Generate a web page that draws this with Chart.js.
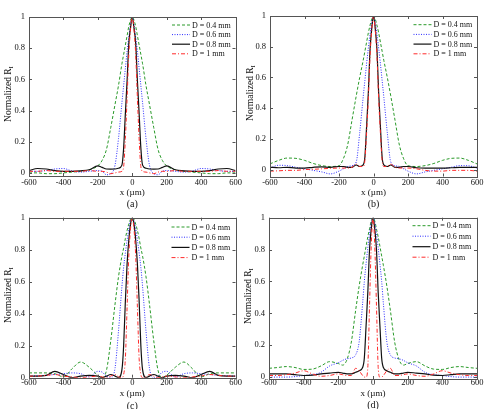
<!DOCTYPE html>
<html>
<head>
<meta charset="utf-8">
<script src="https://cdn.jsdelivr.net/npm/chart.js@4.4.1/dist/chart.umd.min.js"></script>
<style>
  html, body { margin: 0; padding: 0; background: #fff; }
  #page { position: relative; width: 484px; height: 409px; overflow: hidden; }
  canvas { position: absolute; }
</style>
</head>
<body>
<div id="page">
  <canvas id="chartA" width="242" height="212" style="left:0;top:0"></canvas>
  <canvas id="chartB" width="242" height="212" style="left:242px;top:0"></canvas>
  <canvas id="chartC" width="242" height="204" style="left:0;top:205px"></canvas>
  <canvas id="chartD" width="242" height="204" style="left:242px;top:205px"></canvas>
</div>
<script>
// x positions (µm) shared by every curve
const xPos = [-600, -550, -500, -450, -400, -350, -300, -250, -200, -175, -150, -125, -100, -80, -60, -50, -40, -30, -20, -10,
  0, 10, 20, 30, 40, 50, 60, 80, 100, 125, 150, 175, 200, 250, 300, 350, 400, 450, 500, 550, 600];

const seriesLabels = ['D = 0.4 mm', 'D = 0.6 mm', 'D = 0.8 mm', 'D = 1 mm'];
const xTicks = [-600, -400, -200, 0, 200, 400, 600];
const yTicks = [0, 0.2, 0.4, 0.6, 0.8, 1];
const captions = ['(a)', '(b)', '(c)', '(d)'];

// (a)
const a04 = [0.0, 0.0, -0.005, -0.005, 0.0, 0.005, 0.01, 0.02, 0.045, 0.08, 0.15, 0.29, 0.44, 0.56, 0.70, 0.76, 0.82, 0.88, 0.94, 0.98,
  1, 0.98, 0.94, 0.88, 0.82, 0.76, 0.70, 0.56, 0.44, 0.29, 0.15, 0.08, 0.045, 0.02, 0.01, 0.005, 0.0, -0.005, -0.005, 0.0, 0.0];
const a06 = [0.01, 0.01, 0.015, 0.025, 0.028, 0.012, 0.005, 0.01, 0.015, 0.01, -0.012, -0.005, 0.05, 0.22, 0.45, 0.56, 0.67, 0.78, 0.87, 0.95,
  1, 0.95, 0.87, 0.78, 0.67, 0.56, 0.45, 0.22, 0.05, -0.005, -0.012, 0.01, 0.015, 0.01, 0.005, 0.012, 0.028, 0.025, 0.015, 0.01, 0.01];
const a08 = [0.015, 0.028, 0.025, 0.015, 0.01, 0.01, 0.013, 0.02, 0.045, 0.035, 0.025, 0.024, 0.025, 0.03, 0.05, 0.16, 0.38, 0.59, 0.83, 0.93,
  1, 0.93, 0.83, 0.59, 0.38, 0.16, 0.05, 0.03, 0.025, 0.024, 0.025, 0.035, 0.045, 0.02, 0.013, 0.01, 0.01, 0.015, 0.025, 0.028, 0.015];
const a10 = [0.01, 0.01, 0.015, 0.01, 0.01, 0.01, 0.01, 0.015, 0.01, 0.01, 0.005, -0.005, 0.0, 0.005, 0.01, 0.04, 0.22, 0.48, 0.76, 0.92,
  1, 0.92, 0.76, 0.48, 0.22, 0.04, 0.01, 0.005, 0.0, -0.005, 0.005, 0.01, 0.01, 0.015, 0.01, 0.01, 0.01, 0.01, 0.015, 0.01, 0.01];

// (b)
const b04 = [0.037, 0.06, 0.075, 0.073, 0.06, 0.04, 0.026, 0.02, 0.025, 0.07, 0.16, 0.32, 0.48, 0.60, 0.71, 0.77, 0.83, 0.89, 0.94, 0.98,
  1, 0.98, 0.94, 0.89, 0.83, 0.77, 0.71, 0.60, 0.48, 0.32, 0.16, 0.07, 0.025, 0.02, 0.026, 0.04, 0.06, 0.073, 0.075, 0.06, 0.037];
const b06 = [0.01, 0.028, 0.026, 0.015, 0.005, -0.005, -0.015, -0.028, -0.01, 0.005, 0.02, 0.025, 0.05, 0.24, 0.47, 0.58, 0.69, 0.79, 0.88, 0.96,
  1, 0.96, 0.88, 0.79, 0.69, 0.58, 0.47, 0.24, 0.05, 0.025, 0.02, 0.005, -0.01, -0.028, -0.015, -0.005, 0.005, 0.015, 0.026, 0.025, 0.01];
const b08 = [0.015, 0.012, 0.015, 0.01, 0.01, 0.015, 0.018, 0.015, 0.02, 0.02, 0.015, 0.015, 0.03, 0.02, 0.03, 0.08, 0.28, 0.50, 0.78, 0.92,
  1, 0.92, 0.78, 0.50, 0.28, 0.08, 0.03, 0.02, 0.03, 0.015, 0.015, 0.02, 0.02, 0.012, 0.01, 0.01, 0.01, 0.012, 0.015, 0.015, 0.015];
const b10 = [-0.01, -0.008, -0.005, -0.005, 0.0, 0.002, 0.005, 0.008, 0.01, 0.01, 0.01, 0.015, 0.035, 0.02, 0.02, 0.06, 0.24, 0.46, 0.74, 0.91,
  1, 0.91, 0.74, 0.46, 0.24, 0.06, 0.02, 0.02, 0.035, 0.015, 0.01, 0.01, 0.01, 0.005, -0.005, -0.01, -0.01, -0.005, -0.005, -0.005, -0.01];

// (c)
const c04 = [0.03, 0.03, 0.03, 0.025, 0.005, 0.056, 0.098, 0.065, 0.015, 0.0, 0.045, 0.23, 0.46, 0.63, 0.76, 0.81, 0.87, 0.92, 0.96, 0.99,
  1, 0.99, 0.96, 0.92, 0.87, 0.81, 0.76, 0.63, 0.46, 0.23, 0.045, 0.0, 0.015, 0.065, 0.098, 0.056, 0.005, 0.025, 0.03, 0.03, 0.03];
const c06 = [0.01, 0.012, 0.015, 0.02, 0.025, 0.03, 0.025, 0.005, 0.04, 0.035, 0.01, 0.0, 0.06, 0.29, 0.57, 0.69, 0.78, 0.86, 0.93, 0.98,
  1, 0.98, 0.93, 0.86, 0.78, 0.69, 0.57, 0.29, 0.06, 0.0, 0.01, 0.035, 0.04, 0.005, 0.025, 0.03, 0.025, 0.02, 0.015, 0.012, 0.01];
const c08 = [0.01, 0.01, 0.015, 0.04, 0.02, 0.0, 0.01, 0.015, 0.01, 0.0, 0.01, 0.02, 0.01, 0.0, 0.05, 0.20, 0.48, 0.71, 0.86, 0.96,
  1, 0.96, 0.86, 0.71, 0.48, 0.20, 0.05, 0.0, 0.01, 0.02, 0.01, 0.0, 0.01, 0.015, 0.01, 0.0, 0.02, 0.04, 0.015, 0.01, 0.01];
const c10 = [0.01, 0.01, 0.015, 0.02, 0.01, 0.005, 0.0, 0.005, 0.01, 0.005, 0.0, 0.01, 0.02, 0.005, 0.0, 0.02, 0.12, 0.44, 0.76, 0.93,
  1, 0.93, 0.76, 0.44, 0.12, 0.02, 0.0, 0.005, 0.02, 0.01, 0.0, 0.005, 0.01, 0.005, 0.0, 0.005, 0.01, 0.02, 0.015, 0.01, 0.01];

// (d)
const d04 = [0.055, 0.06, 0.066, 0.06, 0.048, 0.05, 0.07, 0.097, 0.085, 0.075, 0.11, 0.22, 0.42, 0.57, 0.70, 0.76, 0.82, 0.88, 0.93, 0.98,
  1, 0.98, 0.93, 0.88, 0.82, 0.76, 0.70, 0.57, 0.42, 0.22, 0.11, 0.075, 0.085, 0.097, 0.07, 0.05, 0.048, 0.06, 0.066, 0.06, 0.055];
const d06 = [0.0, 0.0, 0.0, 0.003, 0.01, 0.015, 0.03, 0.07, 0.09, 0.105, 0.115, 0.12, 0.14, 0.22, 0.46, 0.60, 0.71, 0.81, 0.90, 0.97,
  1, 0.97, 0.90, 0.81, 0.71, 0.60, 0.46, 0.22, 0.14, 0.12, 0.115, 0.105, 0.09, 0.07, 0.03, 0.015, 0.01, 0.003, 0.0, 0.0, 0.0];
const d08 = [0.02, 0.02, 0.02, 0.015, 0.01, 0.012, 0.02, 0.025, 0.03, 0.025, 0.02, 0.02, 0.03, 0.04, 0.06, 0.12, 0.32, 0.53, 0.80, 0.93,
  1, 0.93, 0.80, 0.53, 0.32, 0.12, 0.06, 0.04, 0.03, 0.02, 0.02, 0.025, 0.03, 0.025, 0.02, 0.012, 0.01, 0.015, 0.02, 0.02, 0.02];
const d10 = [0.01, 0.01, 0.015, 0.025, 0.04, 0.02, 0.005, 0.01, 0.02, 0.015, 0.01, 0.01, 0.055, 0.04, 0.01, 0.0, 0.0, 0.06, 0.45, 0.83,
  1, 0.83, 0.45, 0.06, 0.0, 0.0, 0.01, 0.04, 0.055, 0.01, 0.01, 0.015, 0.02, 0.01, 0.005, 0.02, 0.04, 0.025, 0.015, 0.01, 0.01];

// line styles
const lineColors = ['#2a9a2a', '#2c2cff', '#111111', '#ff2a2a'];
const lineDashes = [[3, 2], [1, 1.5], [], [4, 2, 1, 2]];
const lineWidths = [1, 1, 1.2, 1];
const serif = '"Liberation Serif", "Times New Roman", serif';

function fmtY(v) {
    if (v === 0) return '0';
    if (v === 1) return '1';
    return v.toFixed(1);
}

// frame, inward ticks, legend and the axis titles
const decorPlugin = {
    id: 'decor',
    afterDraw(chart, args, o) {
        const ctx = chart.ctx;
        const { left, right, top, bottom } = chart.chartArea;
        const xs = chart.scales.x, ys = chart.scales.y;
        const snap = v => Math.round(v) + 0.5;

        ctx.save();
        ctx.strokeStyle = '#555';
        ctx.lineWidth = 1;
        ctx.setLineDash([]);
        ctx.strokeRect(snap(left), snap(top), Math.round(right) - Math.round(left), Math.round(bottom) - Math.round(top));
        ctx.beginPath();
        xTicks.forEach(v => {
            const px = snap(xs.getPixelForValue(v));
            ctx.moveTo(px, bottom); ctx.lineTo(px, bottom - 3);
            ctx.moveTo(px, top); ctx.lineTo(px, top + 3);
        });
        yTicks.forEach(v => {
            const py = snap(ys.getPixelForValue(v));
            ctx.moveTo(left, py); ctx.lineTo(left + 3, py);
            ctx.moveTo(right, py); ctx.lineTo(right - 3, py);
        });
        ctx.stroke();

        // legend
        ctx.font = '8px ' + serif;
        ctx.textBaseline = 'middle';
        ctx.textAlign = 'left';
        ctx.fillStyle = '#111';
        seriesLabels.forEach((lab, i) => {
            const y = o.legendY + i * o.legendStep;
            ctx.beginPath();
            ctx.strokeStyle = lineColors[i];
            ctx.lineWidth = lineWidths[i];
            ctx.setLineDash(lineDashes[i]);
            ctx.moveTo(o.legendX, y);
            ctx.lineTo(o.legendX + 18, y);
            ctx.stroke();
            ctx.fillText(lab, o.legendX + 20, y + 0.5);
        });
        ctx.setLineDash([]);

        // x title and caption
        ctx.textAlign = 'center';
        ctx.font = '9px ' + serif;
        ctx.fillText('x (\u00b5m)', (left + right) / 2, o.xTitleY);
        ctx.font = '10px ' + serif;
        ctx.fillText(o.caption, (left + right) / 2, o.captionY);

        // y title with subscript
        ctx.translate(o.yTitleX, o.yTitleY);
        ctx.rotate(-Math.PI / 2);
        ctx.textBaseline = 'alphabetic';
        ctx.textAlign = 'left';
        const main = 'Normalized R', sub = 'I';
        ctx.font = '9.5px ' + serif;
        const w1 = ctx.measureText(main).width;
        ctx.font = '7px ' + serif;
        const w2 = ctx.measureText(sub).width;
        const sx = -(w1 + w2) / 2;
        ctx.font = '9.5px ' + serif;
        ctx.fillText(main, sx, 3.5);
        ctx.font = '7px ' + serif;
        ctx.fillText(sub, sx + w1, 6);
        ctx.restore();
    }
};

function makeChart(id, p) {
    const canvas = document.getElementById(id);
    const W = canvas.width, H = canvas.height;
    new Chart(canvas, {
        type: 'line',
        data: {
            datasets: p.series.map((vals, i) => ({
                label: seriesLabels[i],
                data: xPos.map((x, j) => ({ x: x, y: vals[j] })),
                borderColor: lineColors[i],
                borderDash: lineDashes[i],
                borderWidth: lineWidths[i],
                pointRadius: 0,
                fill: false,
                cubicInterpolationMode: 'monotone',
                order: 3 - i
            }))
        },
        options: {
            responsive: false,
            animation: false,
            devicePixelRatio: 1,
            layout: { padding: { left: 0, top: p.area.top, right: W - p.area.right, bottom: 0 } },
            plugins: {
                legend: { display: false },
                tooltip: { enabled: false },
                decor: p.decor
            },
            scales: {
                x: {
                    type: 'linear',
                    min: -600,
                    max: 600,
                    grid: { display: false, drawTicks: false },
                    border: { display: false },
                    ticks: {
                        autoSkip: false,
                        maxRotation: 0,
                        padding: p.xTickPad,
                        color: '#111',
                        font: { family: serif, size: 8.5 }
                    },
                    afterBuildTicks: s => { s.ticks = xTicks.map(v => ({ value: v })); },
                    afterFit: s => { s.height = H - p.area.bottom; s.paddingLeft = 0; s.paddingRight = 0; }
                },
                y: {
                    min: p.yMin,
                    max: 1,
                    grid: { display: false, drawTicks: false },
                    border: { display: false },
                    ticks: {
                        padding: 4,
                        color: '#111',
                        font: { family: serif, size: 8.5 },
                        callback: v => fmtY(v)
                    },
                    afterBuildTicks: s => { s.ticks = yTicks.map(v => ({ value: v })); },
                    afterFit: s => { s.width = p.area.left; s.paddingTop = 0; s.paddingBottom = 0; }
                }
            }
        },
        plugins: [decorPlugin]
    });
}

makeChart('chartA', {
    series: [a04, a06, a08, a10],
    area: { left: 29, right: 235.5, top: 17, bottom: 176 },
    yMin: -0.02,
    xTickPad: 1.5,
    decor: { caption: captions[0], legendX: 172, legendY: 25, legendStep: 9.6, xTitleY: 193, captionY: 204, yTitleX: 7, yTitleY: 94 }
});
makeChart('chartB', {
    series: [b04, b06, b08, b10],
    area: { left: 28, right: 235, top: 16, bottom: 176.5 },
    yMin: -0.045,
    xTickPad: 1.5,
    decor: { caption: captions[1], legendX: 171.5, legendY: 24.7, legendStep: 9.7, xTitleY: 193, captionY: 204, yTitleX: 7, yTitleY: 93 }
});
makeChart('chartC', {
    series: [c04, c06, c08, c10],
    area: { left: 29, right: 235.5, top: 12.7, bottom: 172.7 },
    yMin: 0,
    xTickPad: -0.5,
    decor: { caption: captions[2], legendX: 171.5, legendY: 22, legendStep: 10.2, xTitleY: 189, captionY: 201, yTitleX: 7, yTitleY: 90 }
});
makeChart('chartD', {
    series: [d04, d06, d08, d10],
    area: { left: 27, right: 235, top: 12.7, bottom: 174 },
    yMin: -0.012,
    xTickPad: -1.5,
    decor: { caption: captions[3], legendX: 170.5, legendY: 20.7, legendStep: 10.5, xTitleY: 189, captionY: 200, yTitleX: 5, yTitleY: 91 }
});
</script>
</body>
</html>
